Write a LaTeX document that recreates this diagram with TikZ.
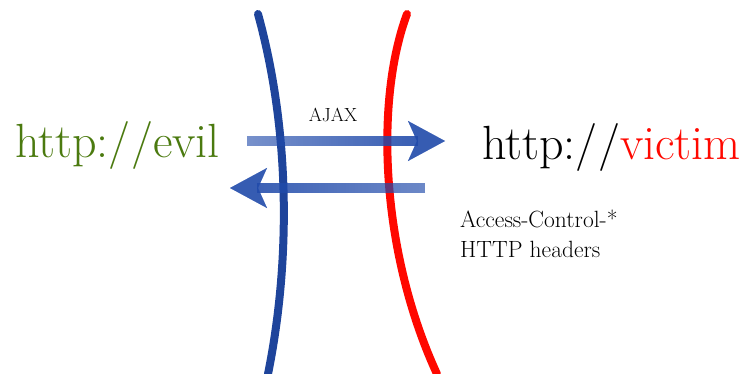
\documentclass[tikz,border=0pt]{standalone}
\usepackage{fontspec}
\usepackage{tikz}
\usetikzlibrary{arrows.meta}
\usetikzlibrary{fadings}

\definecolor{evilgreen}{RGB}{75,122,15}
\definecolor{victimred}{RGB}{255,8,0}
\definecolor{wallblue}{RGB}{30,68,155}
\definecolor{flowblue}{RGB}{32,74,170}

\tikzfading[name=fade to east, left color=transparent!40, right color=transparent!10]
\tikzfading[name=fade to west, left color=transparent!12, right color=transparent!35]

\tikzset{
  wall/.style={line width=8pt, line cap=round},
  shaft/.style={line width=10pt, draw=flowblue},
  head/.style={line width=0.1pt, draw=flowblue, fill=flowblue, opacity=0.9,
    -{Stealth[length=37pt,width=40pt,inset=9pt]}},
  label/.style={inner sep=0pt, anchor=base west}
}

\begin{document}
\begin{tikzpicture}[x=1pt,y=1pt,yscale=-1]
    \useasboundingbox (0,0) rectangle (745,374);

    %Curves: the two origin walls
    \draw [wall, wallblue]  (258,14) .. controls (290,130) and (291,260) .. (268,374) ;
    \draw [wall, victimred] (407,14) .. controls (375,100) and (380,250) .. (437,374) ;

    %Coordinates for the two flows
    \coordinate (ajaxtail) at (247,141);
    \coordinate (ajaxbase) at (418,141);
    \coordinate (ajaxtip) at (445,141);
    \coordinate (hdrtail) at (425,188);
    \coordinate (hdrbase) at (257,188);
    \coordinate (hdrtip) at (230,188);

    %Straight Lines: faded shafts, then heads
    \draw [shaft, path fading=fade to east] (ajaxtail) -- (ajaxbase) ;
    \draw [head] (ajaxbase) -- (ajaxtip) ;
    \draw [shaft, path fading=fade to west] (hdrtail) -- (hdrbase) ;
    \draw [head] (hdrbase) -- (hdrtip) ;

    % Text Node
    \node [label, text=evilgreen, font=\fontsize{48}{56}\selectfont] (evil) at (15,158) {http://evil};
    % Text Node
    \node [label, font=\fontsize{48}{56}\selectfont] (victim) at (482,160) {http://\textcolor{victimred}{victim}};
    % Text Node
    \node [inner sep=0pt, anchor=base, font=\fontsize{19}{22}\selectfont] (ajax) at (333,122) {AJAX};
    % Text Node
    \node [label, font=\fontsize{23.5}{28}\selectfont] (acc) at (460,228) {Access-Control-*};
    % Text Node
    \node [label, font=\fontsize{23.5}{28}\selectfont] (hdrs) at (460,258) {HTTP headers};

\end{tikzpicture}
\end{document}
